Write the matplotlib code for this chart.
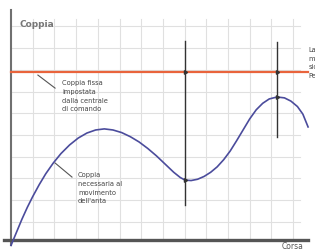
import numpy as np
import matplotlib
matplotlib.use("Agg")
from matplotlib import pyplot as plt

# curve (grid units: 1 unit = one grid cell)
curve_x = [0.0, 0.25, 0.5, 0.75, 1.0, 1.3, 1.6, 1.95, 2.3, 2.7, 3.1, 3.5, 3.9,
           4.3, 4.7, 5.1, 5.5, 5.9, 6.3, 6.7, 7.1, 7.5, 7.8, 8.02, 8.3, 8.6,
           8.9, 9.2, 9.5, 9.8, 10.1, 10.4, 10.7, 11.0, 11.3, 11.6, 11.9, 12.26,
           12.6, 12.9, 13.2, 13.45, 13.69]
curve_y = [-0.25, 0.35, 0.95, 1.5, 2.0, 2.55, 3.05, 3.55, 3.98, 4.38, 4.7, 4.93,
           5.07, 5.12, 5.07, 4.95, 4.76, 4.52, 4.22, 3.88, 3.5, 3.12, 2.88, 2.76,
           2.74, 2.8, 2.93, 3.12, 3.37, 3.7, 4.1, 4.58, 5.08, 5.58, 6.0, 6.3,
           6.5, 6.59, 6.55, 6.4, 6.15, 5.8, 5.21]

fixed_torque = 7.76
check_x = [8.02, 12.26]
check_top = [9.17, 9.12]
check_bottom = [1.61, 4.75]
check_curve_y = [2.76, 6.59]

fixed_label = "Coppia fissa\nimpostata\ndalla centrale\ndi comando"
curve_label = "Coppia\nnecessaria al\nmovimento\ndell'anta"
side_label = "La\nmassima\nsicurezza\nPer"

fig = plt.figure(figsize=(3.15, 2.5), dpi=100)
# axes: 1 unit = 21.7 px, origin at pixel (11, 240)
u = 21.7
xmin, xmax = 0, (308 - 11) / u
ymin, ymax = -0.4, (240 - 8) / u
ax = fig.add_axes([11 / 315, (250 - 240 - 0.4 * u) / 250,
                   (xmax - xmin) * u / 315, (ymax - ymin) * u / 250])
ax.set_xlim(xmin, xmax)
ax.set_ylim(ymin, ymax)
ax.axis('off')

# grid
for gx in np.arange(1, 14):
    ax.plot([gx, gx], [0, 10.2], color='#e0e0e0', lw=0.8, zorder=1)
for gy in np.arange(0.84, 10.0, 1.0):
    ax.plot([0, 13.3], [gy, gy], color='#e0e0e0', lw=0.8, zorder=1)

# axes lines
ax.plot([0, 0], [-0.25, 10.6], color='#707070', lw=1.5, clip_on=False, zorder=3)
ax.plot([-0.3, xmax], [0, 0], color='#555555', lw=2.4, clip_on=False, zorder=3)

ax.plot([0, xmax], [fixed_torque, fixed_torque], color='#e9643c', lw=1.6, zorder=4,
        clip_on=False)
ax.plot(curve_x, curve_y, color='#4b4c9c', lw=1.2, zorder=4, clip_on=False,
        solid_joinstyle='round')

for x, t, b in zip(check_x, check_top, check_bottom):
    ax.plot([x, x], [b, t], color='#333333', lw=1.0, zorder=5)
for x, y in zip(check_x + check_x, [fixed_torque] * 2 + check_curve_y):
    ax.plot(x, y, marker=(3, 0, 30), ms=3, color='#333333', zorder=6)

ax.text(0.4, 9.95, "Coppia", fontsize=6.5, fontweight='bold', color='#777777',
        va='center', ha='left')
ax.text((282 - 11) / u, -0.32, "Corsa", fontsize=5.5, color='#555555',
        va='center', ha='left', clip_on=False)

ax.plot([1.24, 2.03], [7.6, 7.0], color='#555555', lw=0.8)
ax.text(2.35, 7.37, fixed_label, fontsize=4.8, color='#444444', va='top', ha='left',
        linespacing=1.55)
ax.plot([2.03, 2.81], [3.55, 2.9], color='#555555', lw=0.8)
ax.text(3.09, 3.13, curve_label, fontsize=4.8, color='#444444', va='top', ha='left',
        linespacing=1.55)
ax.text(xmax + 0.03, 8.9, side_label, fontsize=4.8, color='#444444', va='top',
        ha='left', linespacing=1.55, clip_on=False)

fig.savefig("out.png", dpi=100)
plt.close(fig)
